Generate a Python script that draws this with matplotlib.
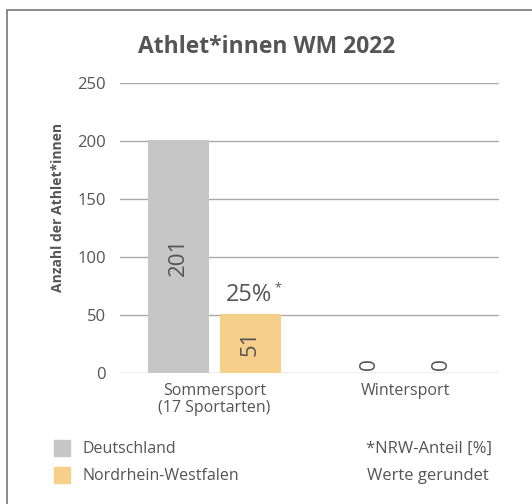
import matplotlib
matplotlib.use("Agg")
import matplotlib.pyplot as plt
from matplotlib.patches import Rectangle

plt.rcParams['font.family'] = ['Open Sans', 'DejaVu Sans']

categories = ["Sommersport\n(17 Sportarten)", "Wintersport"]
series_names = ["Deutschland", "Nordrhein-Westfalen"]
deutschland = [201, 0]
nrw = [51, 0]
nrw_share = ["25%", None]
yticks = [0, 50, 100, 150, 200, 250]

col_de = "#c6c6c6"
col_nrw = "#f6d08b"
txt = "#555555"

fig = plt.figure(figsize=(5.32, 5.04), dpi=100)
W, H = 532, 504

# frame border
fig.add_artist(Rectangle((7 / W, -0.1), 1.2, 1 - 10 / H + 0.1, transform=fig.transFigure,
                         fill=False, edgecolor="#777777", linewidth=1.2))

ax = fig.add_axes([120 / W, 1 - 373 / H, (499 - 120) / W, (373 - 83) / H])
x = list(range(len(categories)))
bw = 0.32
off = 0.189
ax.bar([i - off for i in x], deutschland, width=bw, color=col_de, zorder=3)
ax.bar([i + off for i in x], nrw, width=bw, color=col_nrw, zorder=3)

ax.set_xlim(-0.496, 1.493)
ax.set_ylim(0, 250)
ax.set_yticks(yticks)
ax.set_yticklabels([str(t) for t in yticks], fontsize=12, color=txt)
ax.tick_params(axis='y', length=0, pad=10)
ax.set_xticks(x)
ax.set_xticklabels(categories, fontsize=11.5, color=txt, linespacing=1.1)
ax.tick_params(axis='x', length=0, pad=7)
ax.grid(axis='y', color="#aaaaaa", linewidth=1, zorder=0)
for s in ax.spines.values():
    s.set_visible(False)

ax.set_ylabel("Anzahl der Athlet*innen", fontsize=10, fontweight='bold', color=txt)
ax.yaxis.set_label_coords((65 - 120) / 379, (373 - 207) / 290)

# value labels
for i in x:
    for vals, dx in ((deutschland, -off), (nrw, off)):
        v = vals[i]
        if v > 0:
            ax.text(i + dx, v / 2, str(v), rotation=90, ha='center', va='center',
                    fontsize=16, color=txt, zorder=4)
        else:
            ax.text(i + dx, 3, str(v), rotation=90, ha='center', va='bottom',
                    fontsize=15, color=txt, zorder=4)
    if nrw_share[i]:
        ax.text(i + off - 0.01, nrw[i] + 6, nrw_share[i], ha='center', va='bottom',
                fontsize=17, color=txt)
        ax.annotate("*", xy=(i + off, nrw[i] + 6), xytext=(17, 9), textcoords='offset points',
                    ha='left', va='bottom', fontsize=9, color=txt)

fig.text(267 / W, 1 - 47 / H, "Athlet*innen WM 2022", ha='center', va='center',
         fontsize=16.5, fontweight='bold', color=txt)

# legend
fig.add_artist(Rectangle((54 / W, 1 - 456 / H), 16 / W, 16 / H, transform=fig.transFigure,
                         color=col_de))
fig.add_artist(Rectangle((54 / W, 1 - 483 / H), 16 / W, 16 / H, transform=fig.transFigure,
                         color=col_nrw))
fig.text(82 / W, 1 - 449 / H, series_names[0], ha='left', va='center', fontsize=11.5, color=txt)
fig.text(82 / W, 1 - 476 / H, series_names[1], ha='left', va='center', fontsize=11.5, color=txt)
fig.text(492 / W, 1 - 449 / H, "*NRW-Anteil [%]", ha='right', va='center', fontsize=12, color=txt)
fig.text(489 / W, 1 - 476 / H, "Werte gerundet", ha='right', va='center', fontsize=12, color=txt)

fig.savefig("out.png", dpi=100)
